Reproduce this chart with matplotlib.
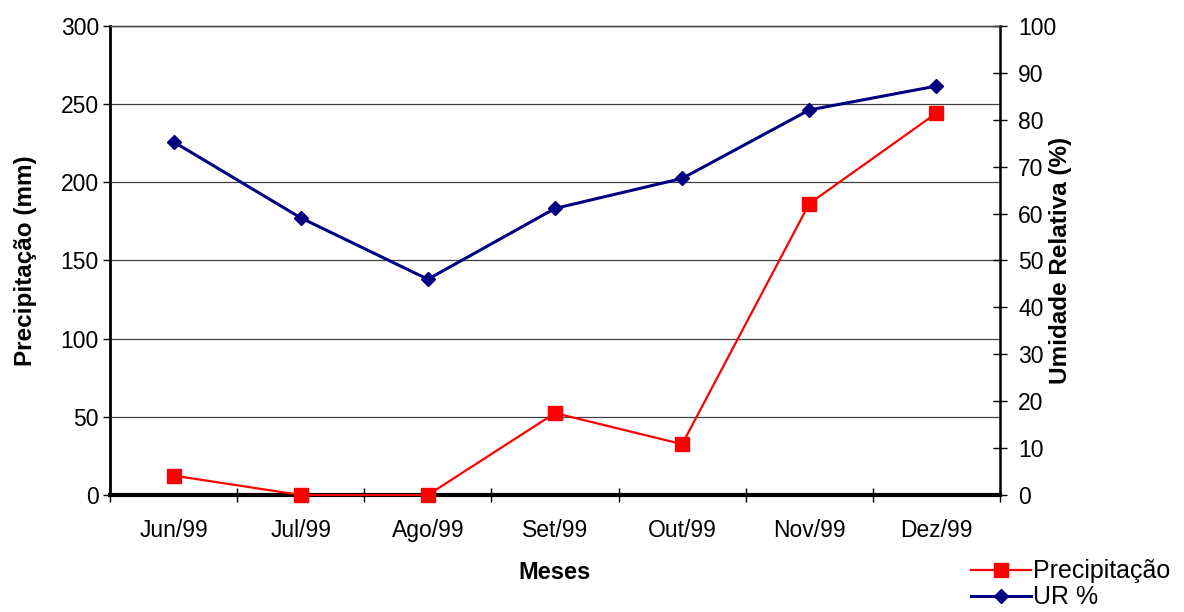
import matplotlib
matplotlib.use("Agg")
import matplotlib.pyplot as plt

plt.rcParams['font.family'] = ['Liberation Sans', 'DejaVu Sans']

meses = ["Jun/99", "Jul/99", "Ago/99", "Set/99", "Out/99", "Nov/99", "Dez/99"]
precipitacao = [12.4, 0, 0, 52.4, 32.5, 186.4, 244.3]
umidade = [75.3, 59.1, 46.0, 61.1, 67.5, 82.1, 87.2]

fig = plt.figure(figsize=(11.84, 6.12), dpi=100)
ax = fig.add_axes([0.0929, 0.1912, 0.7517, 0.7663])
ax2 = ax.twinx()

x = list(range(len(meses)))
lp, = ax.plot(x, precipitacao, color='#ff0000', lw=1.6, marker='s', ms=10,
              mec='#ff0000', mfc='#ff0000', label='Precipitação', clip_on=False, zorder=3)
lu, = ax2.plot(x, umidade, color='#000080', lw=2.2, marker='D', ms=7.5,
               mec='#000080', mfc='#000080', label='UR %', clip_on=False, zorder=3)

ax.set_xlim(-0.5, len(meses) - 0.5)
ax.set_ylim(0, 300)
ax2.set_ylim(0, 100)
ax.set_yticks(range(0, 301, 50))
ax2.set_yticks(range(0, 101, 10))

# category labels sit between the boundary ticks
ax.set_xticks([i + 0.5 for i in range(-1, len(meses))])
ax.set_xticklabels([])
ax.set_xticks(x, minor=True)
ax.set_xticklabels(meses, minor=True)
ax.tick_params(axis='x', which='major', length=10, width=1, direction='inout')
ax.tick_params(axis='x', which='minor', length=0, pad=17, labelsize=16.5)
ax.tick_params(axis='y', length=5, width=1, direction='out', labelsize=16.5, pad=3)
ax2.tick_params(axis='y', length=10, width=1, direction='inout', labelsize=16.5, pad=8)

ax.grid(axis='y', color='#404040', lw=0.9)
ax.set_axisbelow(True)

for a in (ax, ax2):
    a.spines['top'].set_linewidth(0.9)
    a.spines['top'].set_color('#404040')
ax.spines['left'].set_linewidth(2)
ax.spines['bottom'].set_linewidth(3)
ax2.spines['right'].set_linewidth(1.8)
ax2.spines['left'].set_visible(False)
ax2.spines['bottom'].set_visible(False)

ax.set_ylabel("Precipitação (mm)", fontsize=17.5, fontweight='bold')
ax.yaxis.set_label_coords(-0.082, 0.5)
ax2.set_ylabel("Umidade Relativa (%)", fontsize=17.5, fontweight='bold', rotation=90)
ax2.yaxis.set_label_coords(1.055, 0.5)
ax.set_xlabel("Meses", fontsize=17, fontweight='bold')
ax.xaxis.set_label_coords(0.5, -0.141)

fig.legend(handles=[lp, lu], loc='lower left', bbox_to_anchor=(0.812, -0.012),
           frameon=False, fontsize=18, handlelength=2.4, handletextpad=0.05,
           labelspacing=0.08, borderaxespad=0)

fig.savefig("out.png", dpi=100)
